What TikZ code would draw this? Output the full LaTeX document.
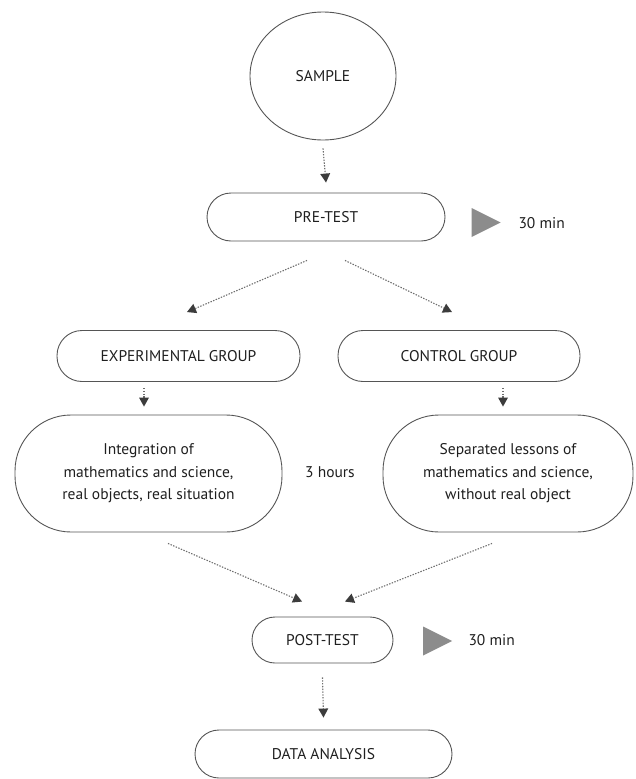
\documentclass[tikz,border=0pt]{standalone}
\usepackage{fontspec}
\setmainfont{PT Sans}
\usetikzlibrary{shapes.geometric,arrows.meta}
\definecolor{boxline}{HTML}{555555}
\definecolor{flowline}{HTML}{6E6E6E}
\definecolor{tipgray}{HTML}{3C3C3C}
\definecolor{pointergray}{HTML}{8C8C8C}
\definecolor{textgray}{HTML}{1F1F1F}

\tikzset{
  stage/.style={draw=boxline, line width=0.9pt, rounded corners=#1, align=center,
    inner sep=2pt, text=textgray, font=\fontsize{15.5}{22.5}\selectfont},
  stage/.default=24pt,
  flow/.style={draw=flowline, line width=1.1pt, dash pattern=on 1.4pt off 1.4pt,
    -{Triangle[width=10pt,length=9pt,fill=tipgray,color=tipgray,line width=0pt]}},
  pointer/.style={isosceles triangle, isosceles triangle stretches, fill=pointergray,
    minimum width=29pt, minimum height=29pt, inner sep=0pt},
  note/.style={text=textgray, font=\fontsize{15.5}{18}\selectfont}
}

\begin{document}
\begin{tikzpicture}[x=1pt,y=-1pt]
\useasboundingbox (0,0) rectangle (636,779);

% Stages
\node[stage, ellipse, minimum width=146pt, minimum height=128pt] (sample) at (323,76) {SAMPLE};
\node[stage, minimum width=238pt, minimum height=48pt] (pretest) at (326,217) {PRE-TEST};
\node[stage=25pt, minimum width=243pt, minimum height=51pt] (expgrp) at (178.5,356) {EXPERIMENTAL GROUP};
\node[stage=25pt, minimum width=242pt, minimum height=51pt] (ctrlgrp) at (459,356) {CONTROL GROUP};
\node[stage=56pt, minimum width=267pt, minimum height=117pt] (exptreat) at (148.5,473.5)
  {Integration of\\mathematics and science,\\real objects, real situation};
\node[stage=56pt, minimum width=250pt, minimum height=117pt] (ctrltreat) at (508,473.5)
  {Separated lessons of\\mathematics and science,\\without real object};
\node[stage=23pt, minimum width=141pt, minimum height=46pt] (posttest) at (322.5,640) {POST-TEST};
\node[stage, minimum width=257pt, minimum height=48pt] (analysis) at (323.5,754) {DATA ANALYSIS};

% Time labels
\node[pointer] (ptrpre) at (480.5,222.5) {};
\node[note, anchor=west] (timepre) at (515,223) {30 min};
\node[note] (hours) at (330,472) {3 hours};
\node[pointer] (ptrpost) at (432,641) {};
\node[note, anchor=west] (timepost) at (465,640) {30 min};

% Flow
\draw[flow] ([yshift=-8pt]sample.south) -- ([yshift=10pt]pretest.north);
\draw[flow] ([xshift=-19pt,yshift=-19pt]pretest.south) -- ([xshift=8.5pt,yshift=18pt]expgrp.north);
\draw[flow] ([xshift=19pt,yshift=-19pt]pretest.south) -- ([xshift=-7pt,yshift=18pt]ctrlgrp.north);
\draw[flow] ([xshift=-4.5pt,yshift=-6pt]exptreat.north |- expgrp.south) -- ([xshift=-4.5pt,yshift=8pt]exptreat.north);
\draw[flow] ([xshift=-5pt,yshift=-6pt]ctrltreat.north |- ctrlgrp.south) -- ([xshift=-5pt,yshift=8pt]ctrltreat.north);
\draw[flow] ([xshift=19.5pt,yshift=-11pt]exptreat.south) -- ([xshift=-20.5pt,yshift=15pt]posttest.north);
\draw[flow] ([xshift=-16pt,yshift=-11pt]ctrltreat.south) -- ([xshift=22.5pt,yshift=15pt]posttest.north);
\draw[flow] ([yshift=-14pt]posttest.south) -- ([yshift=12pt]analysis.north);
\end{tikzpicture}
\end{document}
